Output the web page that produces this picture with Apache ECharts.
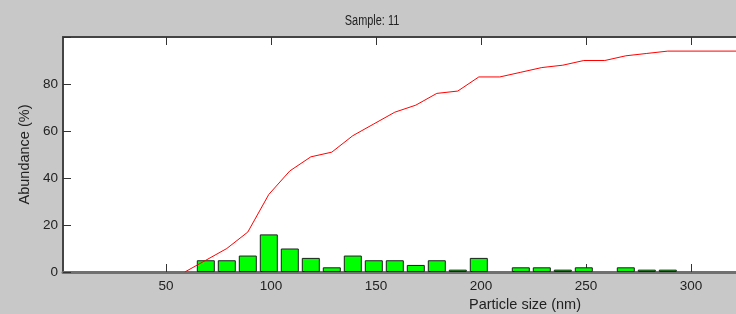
<!DOCTYPE html>
<html>
<head>
<meta charset="utf-8">
<script src="https://cdn.jsdelivr.net/npm/echarts@6/dist/echarts.min.js"></script>
<style>
  html, body { margin: 0; padding: 0; background: #c8c8c8; }
  #chart { width: 736px; height: 314px; }
</style>
</head>
<body>
<div id="chart"></div>
<script>
// histogram bins (bin centres as they sit on the axis, nm) and abundance (%)
const binCenters = [69, 79, 89, 99, 109, 119, 129, 139, 149, 159, 169, 179, 189, 199, 219, 229, 239, 249, 269, 279, 289]
const binValues  = [5, 5, 7, 16, 10, 6, 2, 7, 5, 5, 3, 5, 1, 6, 2, 2, 1, 2, 2, 1, 1]

// cumulative curve (red)
const cumX = [59, 69, 79, 89, 99, 109, 119, 129, 139, 149, 159, 169, 179, 189, 199, 209, 219, 229, 239, 249, 259, 269, 279, 289, 340]
const cumY = [0, 5, 10, 17, 33, 43, 49, 51, 58, 63, 68, 71, 76, 77, 83, 83, 85, 87, 88, 90, 90, 92, 93, 94, 94]

const xTicks = [50, 100, 150, 200, 250, 300, 350, 400]
const yTicks = [0, 20, 40, 60, 80]

const graph = echarts.init(document.getElementById('chart'), null, { renderer: 'canvas' })

const labelFont = "'Liberation Sans', Arial, sans-serif"

let options = {
    backgroundColor: '#c8c8c8',
    animation: false,
    // the title uses a narrow face in the original, squeeze it horizontally
    graphic: [
        {
            type: 'text',
            x: 372,
            y: 21,
            scaleX: 0.78,
            style: {
                text: 'Sample: 11',
                font: "14px 'Liberation Sans', Arial, sans-serif",
                fill: '#222',
                align: 'center',
                verticalAlign: 'middle'
            }
        }
    ],
    grid: {
        show: true,
        left: 63,
        top: 37,
        width: 924,
        height: 235,
        containLabel: false,
        outerBoundsMode: 'none',
        backgroundColor: '#ffffff',
        borderWidth: 0
    },
    xAxis: [
        {
            type: 'value',
            position: 'bottom',
            min: 1,
            max: 441,
            name: 'Particle size (nm)',
            nameLocation: 'middle',
            nameGap: 25,
            nameTextStyle: { fontFamily: labelFont, fontSize: 14.5, color: '#222' },
            splitLine: { show: false },
            axisLine: { lineStyle: { color: '#707070', width: 3 } },
            axisTick: { inside: true, length: 8, customValues: xTicks, lineStyle: { color: '#333', width: 1 } },
            axisLabel: { customValues: xTicks, margin: 7, fontFamily: labelFont, fontSize: 13.5, color: '#222' }
        },
        {
            type: 'value',
            position: 'top',
            min: 1,
            max: 441,
            splitLine: { show: false },
            axisLine: { lineStyle: { color: '#444', width: 2 } },
            axisTick: { inside: true, length: 8, customValues: xTicks, lineStyle: { color: '#333', width: 1 } },
            axisLabel: { show: false }
        }
    ],
    yAxis: {
        type: 'value',
        min: 0,
        max: 100,
        interval: 20,
        name: 'Abundance (%)',
        nameLocation: 'middle',
        nameGap: 29,
        nameTextStyle: { fontFamily: labelFont, fontSize: 14.5, color: '#222' },
        splitLine: { show: false },
        axisLine: { show: true, lineStyle: { color: '#444', width: 2 } },
        axisTick: { show: true, inside: true, length: 8, lineStyle: { color: '#333', width: 1 } },
        axisLabel: {
            margin: 5,
            fontFamily: labelFont,
            fontSize: 13.5,
            color: '#222',
            formatter: (v) => (yTicks.indexOf(v) >= 0 ? String(v) : '')
        }
    },
    series: [
        {
            type: 'bar',
            xAxisIndex: 0,
            barWidth: 18,
            data: binCenters.map((x, i) => [x, binValues[i]]),
            itemStyle: { color: '#00ff00', borderColor: '#1e1e1e', borderWidth: 1 },
            z: 2
        },
        {
            type: 'line',
            xAxisIndex: 0,
            data: cumX.map((x, i) => [x, cumY[i]]),
            showSymbol: false,
            symbol: 'none',
            lineStyle: { color: '#ff0000', width: 1 },
            z: 3
        }
    ]
}

graph.setOption(options)
</script>
</body>
</html>
